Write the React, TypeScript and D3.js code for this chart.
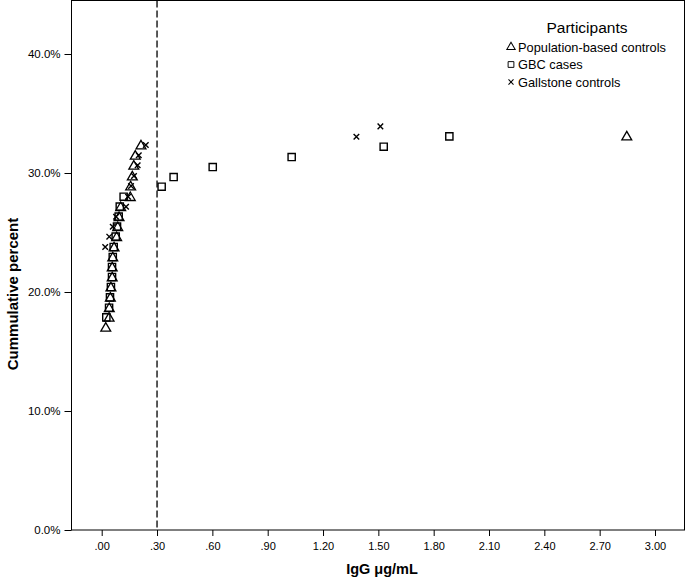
import React, { useEffect, useRef } from "react";
import * as d3 from "d3";

// cumulative percent levels
const popX = [0.022, 0.040, 0.041, 0.047, 0.050, 0.057, 0.057, 0.060, 0.067, 0.081, 0.087, 0.094, 0.103, 0.155, 0.157, 0.166, 0.174, 0.182, 0.213, 2.847];
const popY = [17.03, 17.87, 18.68, 19.55, 20.42, 21.26, 22.10, 22.94, 23.78, 24.65, 25.49, 26.33, 27.17, 28.01, 28.91, 29.75, 30.65, 31.49, 32.35, 33.11];

const gbcX = [0.025, 0.040, 0.045, 0.050, 0.056, 0.056, 0.060, 0.065, 0.076, 0.083, 0.092, 0.098, 0.119, 0.325, 0.390, 0.602, 1.030, 1.529, 1.885];
const gbcY = [17.87, 18.68, 19.55, 20.42, 21.26, 22.10, 22.94, 23.78, 24.65, 25.49, 26.33, 27.17, 28.01, 28.85, 29.66, 30.50, 31.34, 32.21, 33.08];

const gallX = [0.019, 0.041, 0.060, 0.078, 0.132, 0.143, 0.159, 0.175, 0.195, 0.201, 0.239, 1.381, 1.511];
const gallY = [23.78, 24.65, 25.49, 26.33, 27.17, 28.01, 28.91, 29.75, 30.65, 31.49, 32.35, 33.05, 33.92];

const xTicks = [0, 0.3, 0.6, 0.9, 1.2, 1.5, 1.8, 2.1, 2.4, 2.7, 3.0];
const yTicks = [0, 10, 20, 30, 40];
const cutoff = 0.3;

const legendItems = ["Population-based controls", "GBC cases", "Gallstone controls"];

const font = "Arial, 'Liberation Sans', sans-serif";

export default function App() {
    const ref = useRef<SVGSVGElement>(null);

    useEffect(() => {
        const svg = d3.select(ref.current);
        svg.selectAll("*").remove();

        const width = 687, height = 578;
        const left = 71.5, right = 684.5, top = 0.5, bottom = 530;

        const x = d3.scaleLinear().domain([0, 3]).range([101.7, 655]);
        const y = d3.scaleLinear().domain([0, 40]).range([bottom, 54]);

        svg.attr("width", width).attr("height", height);

        // frame
        svg.append("rect")
            .attr("x", left).attr("y", top)
            .attr("width", right - left).attr("height", bottom - top)
            .style("fill", "none").style("stroke", "#000").style("stroke-width", 1);

        // axes
        const xAxis = svg.append("g")
            .attr("transform", `translate(0,${bottom})`)
            .call(d3.axisBottom(x).tickValues(xTicks).tickSize(6).tickSizeOuter(0)
                .tickFormat(d => d3.format(".2f")(+d).replace(/^0/, "")));
        xAxis.select(".domain").remove();
        xAxis.selectAll("text").attr("y", 12).style("font-family", font).style("font-size", "11px").style("fill", "#000");

        const yAxis = svg.append("g")
            .attr("transform", `translate(${left},0)`)
            .call(d3.axisLeft(y).tickValues(yTicks).tickSize(7).tickSizeOuter(0)
                .tickFormat(d => d3.format(".1f")(+d) + "%"));
        yAxis.select(".domain").remove();
        yAxis.selectAll("text").attr("x", -11).style("font-family", font).style("font-size", "11.5px").style("fill", "#000");

        // titles
        svg.append("text")
            .attr("x", 382).attr("y", 574)
            .style("text-anchor", "middle").style("font-family", font)
            .style("font-size", "14.5px").style("font-weight", "bold")
            .text("IgG μg/mL");

        svg.append("text")
            .attr("transform", `translate(18,294) rotate(-90)`)
            .style("text-anchor", "middle").style("font-family", font)
            .style("font-size", "15px").style("font-weight", "bold")
            .text("Cummulative percent");

        // cutoff line
        svg.append("line")
            .attr("x1", x(cutoff)).attr("x2", x(cutoff))
            .attr("y1", top).attr("y2", bottom)
            .style("stroke", "#000").style("stroke-width", 1.3)
            .style("stroke-dasharray", "7,3");

        const tri = d3.symbol().type(d3.symbolTriangle).size(42)();
        const sq = d3.symbol().type(d3.symbolSquare).size(52)();
        const cross = d3.symbol().type(d3.symbolX).size(22)();

        const drawSeries = (xs: number[], ys: number[], path: string | null, sw: number, dy = 0) => {
            svg.append("g").selectAll("path")
                .data(xs.map((v, i) => [v, ys[i]]))
                .enter().append("path")
                .attr("d", path)
                .attr("transform", d => `translate(${x(d[0])},${y(d[1]) + dy})`)
                .style("fill", "none").style("stroke", "#000").style("stroke-width", sw);
        };

        drawSeries(gbcX, gbcY, sq, 1.4);
        drawSeries(popX, popY, tri, 1.3, 1);
        drawSeries(gallX, gallY, cross, 1.4);

        // legend
        svg.append("text")
            .attr("x", 587).attr("y", 33)
            .style("text-anchor", "middle").style("font-family", font)
            .style("font-size", "15.5px")
            .text("Participants");

        const syms = [tri, sq, cross];
        const lg = svg.append("g");
        legendItems.forEach((label, i) => {
            const cy = 47 + i * 17.5;
            lg.append("path").attr("d", syms[i])
                .attr("transform", `translate(511,${cy})${i === 0 ? " scale(0.85)" : i === 1 ? " scale(0.8)" : " scale(0.9)"}`)
                .style("fill", "none").style("stroke", "#000").style("stroke-width", 1.2);
            lg.append("text")
                .attr("x", 518).attr("y", cy + 4.5)
                .style("font-family", font).style("font-size", "12.8px")
                .text(label);
        });
    }, []);

    return (
        <div style={{ position: "absolute", left: 0, top: 0 }}>
            <svg ref={ref}></svg>
        </div>
    );
}
